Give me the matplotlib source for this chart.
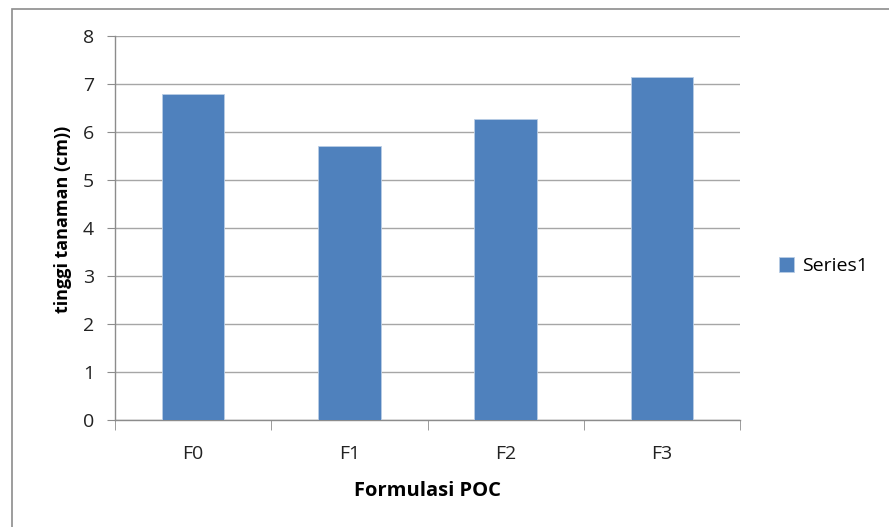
import matplotlib.pyplot as plt
from matplotlib.patches import Rectangle

plt.rcParams['font.family'] = ['Open Sans', 'DejaVu Sans']

# data
categories = ['F0', 'F1', 'F2', 'F3']
heights = [6.8, 5.7, 6.27, 7.15]
series_name = 'Series1'

bar_color = '#4F81BD'
grid_color = '#A6A6A6'

fig = plt.figure(figsize=(8.89, 5.27), dpi=100)
ax = fig.add_axes([115 / 889, 1 - 420 / 527, 625 / 889, 384 / 527])

# outer chart frame (Excel chart border)
fig.patches.append(Rectangle((12 / 889, -0.05), 1.2, 1 - 9 / 527 + 0.05,
                             transform=fig.transFigure, fill=False,
                             edgecolor='#8C8C8C', linewidth=1.2))

x = range(len(categories))
ax.bar(x, heights, width=0.4, color=bar_color, edgecolor='#B9CDE5',
       linewidth=0.6, label=series_name, zorder=3)

ax.set_xlim(-0.5, len(categories) - 0.5)
ax.set_ylim(0, 8)
ax.set_yticks(range(0, 9))
ax.set_xticks(list(x))
ax.set_xticklabels(categories)
ax.set_xticks([i - 0.5 for i in range(len(categories) + 1)], minor=True)

ax.grid(axis='y', color=grid_color, linewidth=1, zorder=0)
for s in ['top', 'right']:
    ax.spines[s].set_visible(False)
for s in ['left', 'bottom']:
    ax.spines[s].set_color('#8C8C8C')
    ax.spines[s].set_linewidth(1)

ax.tick_params(axis='y', length=6, color='#8C8C8C', labelsize=14, pad=9,
               labelcolor='#222222')
ax.tick_params(axis='x', which='major', length=0, labelsize=14, pad=18,
               labelcolor='#222222')
ax.tick_params(axis='x', which='minor', length=7, color='#8C8C8C')

ax.set_ylabel('tinggi tanaman (cm))', fontsize=13, fontweight='bold')
ax.yaxis.set_label_coords(-0.069, 0.523)
ax.set_xlabel('Formulasi POC', fontsize=14.5, fontweight='bold', labelpad=13)

ax.legend(loc='center left', bbox_to_anchor=(1.035, 0.4), frameon=False,
          fontsize=14, handlelength=0.75, handleheight=0.75, handletextpad=0.4)

fig.savefig('out.png', dpi=100)
